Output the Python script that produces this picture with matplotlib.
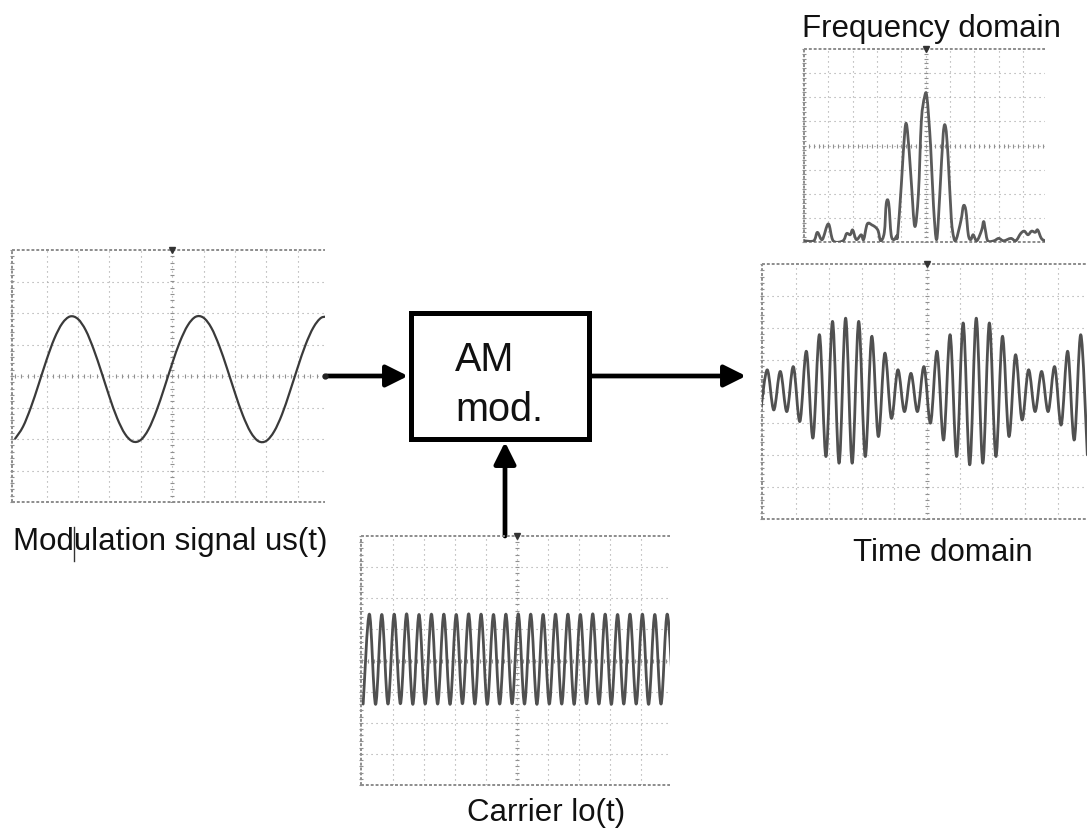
import numpy as np
import matplotlib.pyplot as plt
from matplotlib.patches import Rectangle, PathPatch
from matplotlib.path import Path

plt.rcParams['font.family'] = ['Liberation Sans', 'DejaVu Sans']

W, H = 1087, 829

# modulation signal us(t), sampled every 0.25 div from x = -5.0
mod_step = 0.25
mod_values = [-1.99, -1.61, -1.00, -0.26, 0.51, 1.19, 1.67, 1.89, 1.81, 1.45,
              0.85, 0.12, -0.65, -1.34, -1.84, -2.08, -2.03, -1.69, -1.11, -0.38,
              0.39, 1.09, 1.61, 1.88, 1.85, 1.53, 0.96, 0.24, -0.53, -1.24,
              -1.78, -2.07, -2.06, -1.76, -1.22, -0.50, 0.27, 0.99, 1.54, 1.85, 1.87]

# carrier lo(t): trough / peak values of each cycle (div), period 0.4 div
carrier_period = 0.4
carrier_peaks = [1.49, 1.48, 1.49, 1.50, 1.48, 1.49, 1.49, 1.48, 1.50, 1.49,
                 1.48, 1.49, 1.50, 1.49, 1.48, 1.49, 1.49, 1.48, 1.50, 1.49,
                 1.48, 1.49, 1.49, 1.48, 1.49]
carrier_troughs = [-1.40, -1.41, -1.40, -1.39, -1.41, -1.40, -1.40, -1.41, -1.39, -1.40,
                   -1.41, -1.40, -1.39, -1.40, -1.41, -1.40, -1.40, -1.41, -1.39, -1.40,
                   -1.41, -1.40, -1.40, -1.41, -1.40, -1.40]

# AM output in time domain: peak / trough of each carrier cycle (div)
am_peaks = [0.68, 0.63, 0.78, 1.26, 1.78, 2.20, 2.30, 2.20, 1.73, 1.20,
            0.68, 0.57, 0.78, 1.26, 1.78, 2.15, 2.30, 2.15, 1.73, 1.15,
            0.68, 0.63, 0.78, 1.26, 1.78]
am_troughs = [-0.60, -0.58, -0.63, -0.94, -1.46, -2.04, -2.25, -2.25, -2.04, -1.41,
              -0.84, -0.63, -0.63, -0.99, -1.52, -2.04, -2.30, -2.25, -2.04, -1.41,
              -0.89, -0.63, -0.63, -1.05, -1.52, -1.99]

# spectrum trace vertices (frequency div, height div above bottom)
spec_f = [-5.0, -4.6, -4.45, -4.25, -4.0, -3.8, -3.4, -3.25, -3.1, -3.0,
          -2.85, -2.65, -2.55, -2.4, -2.2, -2.05, -1.95, -1.85, -1.7, -1.62,
          -1.52, -1.42, -1.3, -1.2, -1.15, -1.0, -0.85, -0.75, -0.6, -0.45,
          -0.3, -0.18, -0.05, 0.05, 0.2, 0.32, 0.45, 0.58, 0.72, 0.82,
          0.92, 1.05, 1.15, 1.25, 1.45, 1.55, 1.65, 1.75, 1.85, 1.95,
          2.1, 2.3, 2.38, 2.45, 2.55, 2.8, 3.0, 3.2, 3.5, 3.7,
          3.9, 4.05, 4.2, 4.35, 4.5, 4.6, 4.75, 4.9]
spec_h = [0.05, 0.05, 0.40, 0.10, 0.75, 0.05, 0.05, 0.35, 0.30, 0.50,
          0.10, 0.30, 0.10, 0.75, 0.70, 0.60, 0.45, 0.05, 0.40, 1.60,
          1.60, 0.30, 0.10, 0.25, 0.30, 2.40, 4.70, 4.60, 2.60, 0.65,
          2.00, 5.00, 6.00, 6.00, 4.00, 1.50, 0.10, 2.00, 4.50, 4.75,
          3.50, 1.00, 0.20, 0.10, 0.90, 1.50, 1.30, 0.30, 0.10, 0.30,
          0.05, 0.50, 0.85, 0.50, 0.05, 0.05, 0.15, 0.05, 0.15, 0.05,
          0.35, 0.45, 0.30, 0.45, 0.40, 0.50, 0.15, 0.05]


def smooth_trace(sax, x, y, **kw):
    # draw the trace as a smooth curve through its vertices
    pts = np.column_stack([x, y]).astype(float)
    verts = [pts[0]]
    codes = [Path.MOVETO]
    for i in range(len(pts) - 1):
        p0 = pts[max(i - 1, 0)]
        p1 = pts[i]
        p2 = pts[i + 1]
        p3 = pts[min(i + 2, len(pts) - 1)]
        verts += [p1 + (p2 - p0) / 6, p2 - (p3 - p1) / 6, p2]
        codes += [Path.CURVE4] * 3
    sax.add_patch(PathPatch(Path(verts, codes), fill=False, capstyle='round',
                            joinstyle='round', zorder=3, **kw))


def add_screen(fig, x0, y0, x1, y1, xlim, ylim, center_y):
    sax = fig.add_axes([x0 / W, 1 - y1 / H, (x1 - x0) / W, (y1 - y0) / H])
    sax.set_xlim(*xlim)
    sax.set_ylim(*ylim)
    sax.axis('off')
    grid = dict(color='#a0a0a0', lw=0.8, ls=(0, (1, 3.5)), zorder=1)
    for gx in range(-4, 5):
        if xlim[0] < gx < xlim[1]:
            sax.axvline(gx, **grid)
    for gy in range(int(np.ceil(ylim[0])) + 1, int(ylim[1])):
        sax.axhline(gy, **grid)
    # minor ticks on the centre lines
    tx = np.arange(-5.0, 5.01, 0.2)
    tx = tx[(tx > xlim[0]) & (tx < xlim[1])]
    sax.plot(tx, np.full(tx.size, center_y), ls='none', marker='|', ms=3,
             mew=0.8, color='#909090', zorder=1)
    ty = np.arange(ylim[0], ylim[1] + 0.01, 0.2)
    sax.plot(np.zeros(ty.size), ty, ls='none', marker='_', ms=3,
             mew=0.8, color='#909090', zorder=1)
    # frame: top, left, bottom
    frame = dict(color='#8c8c8c', lw=1.4, ls=(0, (1.5, 1)), zorder=2, clip_on=False)
    sax.plot([xlim[0], xlim[1]], [ylim[1], ylim[1]], **frame)
    sax.plot([xlim[0], xlim[1]], [ylim[0], ylim[0]], **frame)
    sax.plot([xlim[0], xlim[0]], [ylim[0], ylim[1]], **frame)
    sax.plot(np.full(ty.size, xlim[0]), ty, ls='none', marker='_', ms=3,
             mew=0.8, color='#909090', zorder=2, clip_on=False)
    # trigger mark
    sax.plot([0], [ylim[1]], marker='v', ms=4, color='#333333', zorder=4, clip_on=False)
    return sax


fig = plt.figure(figsize=(W / 100, H / 100), dpi=100)
ax = fig.add_axes([0, 0, 1, 1])
ax.set_xlim(0, W)
ax.set_ylim(H, 0)
ax.axis('off')

# modulation signal screen
s1 = add_screen(fig, 12, 251, 325, 503, (-5.1, 4.87), (-4, 4), 0)
mx = -5.0 + mod_step * np.arange(len(mod_values))
smooth_trace(s1, mx, mod_values, ec='#3a3a3a', lw=1.6)
s1.plot([4.87], [0], marker='o', ms=3.5, color='#222222', zorder=4, clip_on=False)

# carrier screen
s2 = add_screen(fig, 361, 537, 670, 786, (-5.02, 4.94), (-4, 4), 0)
n = len(carrier_troughs) + len(carrier_peaks)
cy = np.empty(n)
cy[0::2] = carrier_troughs
cy[1::2] = carrier_peaks
cx = -4.95 + carrier_period / 2 * np.arange(n)
smooth_trace(s2, cx, cy, ec='#505050', lw=2.0)

# time domain screen
s3 = add_screen(fig, 762, 265, 1087, 520, (-5.05, 4.9), (-4, 4), 0)
n = len(am_troughs) + len(am_peaks)
ay = np.empty(n)
ay[0::2] = am_troughs
ay[1::2] = am_peaks
axx = -5.09 + carrier_period / 2 * np.arange(n)
smooth_trace(s3, axx, ay, ec='#505050', lw=2.0)

# frequency domain screen
s4 = add_screen(fig, 804, 50, 1045, 243, (-5.0, 4.9), (0, 8), 4)
smooth_trace(s4, spec_f, spec_h, ec='#5a5a5a', lw=2.0)

# AM modulator block
ax.add_patch(Rectangle((411, 314), 178, 126, fill=True, fc='white',
                       ec='black', lw=3.6, zorder=5))
ax.text(455, 371, 'AM', fontsize=28.5, ha='left', va='baseline', color='#111111', zorder=6)
ax.text(455, 421, 'mod.', fontsize=28.5, ha='left', va='baseline', color='#111111', zorder=6)

arrow = dict(arrowstyle='-|>,head_length=1.1,head_width=0.55', lw=3.4, color='black',
             shrinkA=0, shrinkB=0, mutation_scale=12)
ax.annotate('', xy=(408, 377), xytext=(327, 377), arrowprops=arrow, zorder=6)
ax.annotate('', xy=(746, 377), xytext=(592, 377), arrowprops=arrow, zorder=6)
ax.annotate('', xy=(505, 443), xytext=(505, 537), arrowprops=arrow, zorder=6)

# labels
lab = dict(fontsize=22.5, ha='left', va='baseline', color='#111111')
ax.text(13, 550, 'Modulation signal us(t)', **lab)
ax.text(802, 37, 'Frequency domain', **lab)
ax.text(853, 561, 'Time domain', **lab)
ax.text(467, 821, 'Carrier lo(t)', **lab)
# text cursor left in the label
ax.plot([74, 74], [528, 562], color='#333333', lw=1.0)

fig.savefig('out.png', dpi=100)
